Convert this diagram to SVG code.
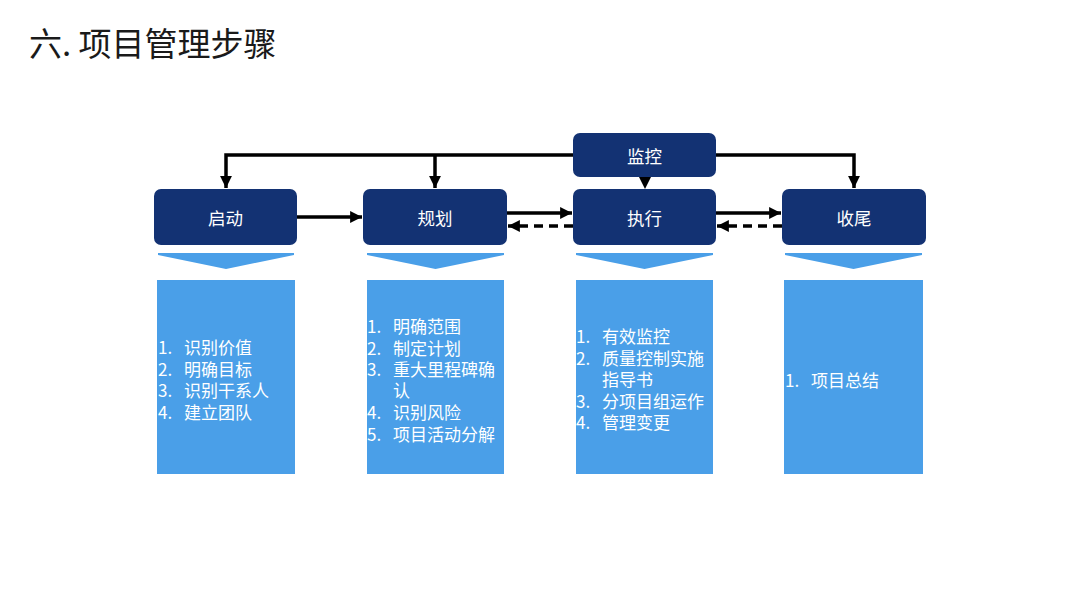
<svg xmlns="http://www.w3.org/2000/svg" width="1080" height="607" viewBox="0 0 1080 607">
<style>
.node{fill:#133273;}
.nt{fill:#fff;font-family:"Noto Sans CJK SC","Liberation Sans",sans-serif;font-size:17.5px;text-anchor:middle;dominant-baseline:central;}
.box{fill:#4a9fe8;}
.chev{fill:#4a9fe8;}
.it{fill:#fff;font-family:"Noto Sans CJK SC","Liberation Sans",sans-serif;font-size:17px;dominant-baseline:central;}
.ln{fill:none;stroke:#000;stroke-width:3.5;}
.dash{fill:none;stroke:#000;stroke-width:3.5;stroke-dasharray:9,6;}
.title{fill:#1a1a1a;font-family:"Noto Sans CJK SC","Liberation Sans",sans-serif;font-size:33px;}
</style>
<defs>
<marker id="ah" viewBox="0 0 10 10" refX="10" refY="5" markerWidth="3.4" markerHeight="3.4" orient="auto" markerUnits="strokeWidth">
<path d="M0,0 L10,5 L0,10 Z" fill="#000"/>
</marker>
</defs>
<rect width="1080" height="607" fill="#fff"/>
<text class="title" x="29" y="56">六. 项目管理步骤</text>

<g id="connectors">
<path class="ln" d="M573,155 H226 V188" marker-end="url(#ah)"/>
<path class="ln" d="M435,155 V188" marker-end="url(#ah)"/>
<path class="ln" d="M716,155 H854 V188" marker-end="url(#ah)"/>
<path d="M639,177 L651,177 L645,189 Z" fill="#000"/>
<path class="ln" d="M297,217 H362" marker-end="url(#ah)"/>
<path class="ln" d="M507,213 H572" marker-end="url(#ah)"/>
<path class="dash" d="M573,226 H508" marker-end="url(#ah)"/>
<path class="ln" d="M716,213 H781" marker-end="url(#ah)"/>
<path class="dash" d="M782,226 H717" marker-end="url(#ah)"/>
</g>

<g id="node-monitor"><rect class="node" x="573" y="133" width="143" height="44" rx="7"/><text class="nt" x="644.5" y="155">监控</text></g>
<g id="node-start"><rect class="node" x="154" y="189" width="143" height="56" rx="7"/><text class="nt" x="225.5" y="217">启动</text></g>
<g id="node-plan"><rect class="node" x="363" y="189" width="144" height="56" rx="7"/><text class="nt" x="435" y="217">规划</text></g>
<g id="node-exec"><rect class="node" x="573" y="189" width="143" height="56" rx="7"/><text class="nt" x="644.5" y="217">执行</text></g>
<g id="node-close"><rect class="node" x="782" y="189" width="144" height="56" rx="7"/><text class="nt" x="854" y="217">收尾</text></g>

<g id="detail-start">
<polygon class="chev" points="158,253 294,253 294,255 226,269 158,255"/>
<rect class="box" x="157" y="280" width="138" height="194"/>
<text class="it" y="346"><tspan x="158">1.</tspan><tspan x="184">识别价值</tspan></text>
<text class="it" y="367.5"><tspan x="158">2.</tspan><tspan x="184">明确目标</tspan></text>
<text class="it" y="389"><tspan x="158">3.</tspan><tspan x="184">识别干系人</tspan></text>
<text class="it" y="410.5"><tspan x="158">4.</tspan><tspan x="184">建立团队</tspan></text>
</g>
<g id="detail-plan">
<polygon class="chev" points="367,253 504,253 504,255 435.5,269 367,255"/>
<rect class="box" x="367" y="280" width="137" height="194"/>
<text class="it" y="325"><tspan x="367">1.</tspan><tspan x="393">明确范围</tspan></text>
<text class="it" y="346.5"><tspan x="367">2.</tspan><tspan x="393">制定计划</tspan></text>
<text class="it" y="368"><tspan x="367">3.</tspan><tspan x="393">重大里程碑确</tspan></text>
<text class="it" x="393" y="389.5">认</text>
<text class="it" y="411"><tspan x="367">4.</tspan><tspan x="393">识别风险</tspan></text>
<text class="it" y="432.5"><tspan x="367">5.</tspan><tspan x="393">项目活动分解</tspan></text>
</g>
<g id="detail-exec">
<polygon class="chev" points="576,253 713,253 713,255 644.5,269 576,255"/>
<rect class="box" x="576" y="280" width="137" height="194"/>
<text class="it" y="335"><tspan x="576">1.</tspan><tspan x="602">有效监控</tspan></text>
<text class="it" y="356.5"><tspan x="576">2.</tspan><tspan x="602">质量控制实施</tspan></text>
<text class="it" x="602" y="378">指导书</text>
<text class="it" y="399.5"><tspan x="576">3.</tspan><tspan x="602">分项目组运作</tspan></text>
<text class="it" y="421"><tspan x="576">4.</tspan><tspan x="602">管理变更</tspan></text>
</g>
<g id="detail-close">
<polygon class="chev" points="785,253 922,253 922,255 853.5,269 785,255"/>
<rect class="box" x="784" y="280" width="139" height="194"/>
<text class="it" y="379"><tspan x="785">1.</tspan><tspan x="811">项目总结</tspan></text>
</g>
</svg>
